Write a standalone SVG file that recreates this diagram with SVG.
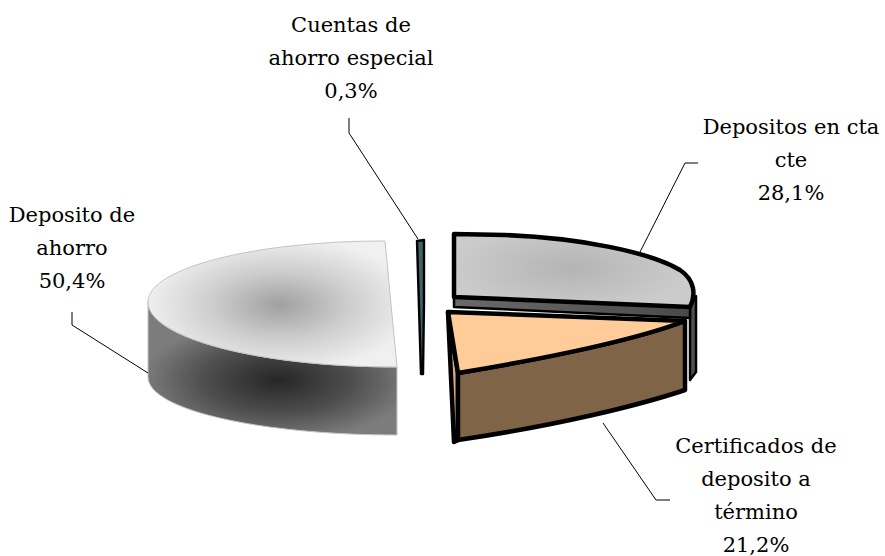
<svg xmlns="http://www.w3.org/2000/svg" width="885" height="556" viewBox="0 0 885 556">
<defs>
<radialGradient id="gTopL" gradientUnits="userSpaceOnUse" cx="280" cy="305" r="135" gradientTransform="translate(280 305) scale(1 0.5) translate(-280 -305)">
<stop offset="0" stop-color="#a0a0a0"/><stop offset="0.5" stop-color="#cdcdcd"/><stop offset="1" stop-color="#f0f0f0"/>
</radialGradient>
<radialGradient id="gSideL" gradientUnits="userSpaceOnUse" cx="278" cy="380" r="135" gradientTransform="translate(278 380) scale(1 0.45) translate(-278 -380)">
<stop offset="0" stop-color="#262626"/><stop offset="0.55" stop-color="#4e4e4e"/><stop offset="1" stop-color="#7c7c7c"/>
</radialGradient>
<radialGradient id="gTopR" gradientUnits="userSpaceOnUse" cx="570" cy="268" r="120" gradientTransform="translate(570 268) scale(1 0.35) translate(-570 -268)">
<stop offset="0" stop-color="#b4b4b4"/><stop offset="1" stop-color="#cbcbcb"/>
</radialGradient>
<linearGradient id="gBand" x1="0" y1="0" x2="1" y2="0">
<stop offset="0" stop-color="#6a6a6a"/><stop offset="1" stop-color="#4a4a4a"/>
</linearGradient>
<style>
.lbl{font-family:"DejaVu Serif","Liberation Serif",serif;font-size:21px;fill:#000;text-anchor:middle}
.lead{fill:none;stroke:#000;stroke-width:1}
.thick{stroke:#000;stroke-width:4.5;stroke-linejoin:round}
.thin{stroke:#c4c4c4;stroke-width:1;stroke-linejoin:round}
</style>
</defs>

<g id="deposito-ahorro">
<path class="thin" fill="url(#gSideL)" d="M148,302 C148,338 260,367 397,367 L397,435 C260,435 148,410 148,377 Z"/>
<path class="thin" fill="url(#gTopL)" d="M385,241 C254,241 148,268 148,302 C148,338 260,367 397,367 Z"/>
<text class="lbl" x="72" y="222">Deposito de</text>
<text class="lbl" x="72" y="255">ahorro</text>
<text class="lbl" x="72" y="288">50,4%</text>
</g>

<g id="cuentas-ahorro-especial">
<path d="M417,241 L424,240 L424,302 L423,374 L421,374 Z" fill="#3f6266" stroke="#000" stroke-width="2.4" stroke-linejoin="round"/>
<text class="lbl" x="351" y="32">Cuentas de</text>
<text class="lbl" x="351" y="65">ahorro especial</text>
<text class="lbl" x="351" y="98">0,3%</text>
</g>

<g id="depositos-cta-cte">
<path d="M690,307 L696,296 L696,372 L690,380 Z" fill="#4f4f4f" stroke="#000" stroke-width="2.5" stroke-linejoin="round"/>
<path d="M454,297 L690,307 L690,318 L454,307 Z" fill="url(#gBand)" stroke="#000" stroke-width="2.5" stroke-linejoin="round"/>
<path class="thick" fill="url(#gTopR)" d="M454,234 L505,235 C580,238 650,252 680,270 C695,280 696,295 690,307 L454,297 Z"/>
<text class="lbl" x="791" y="134">Depositos en cta</text>
<text class="lbl" x="791" y="167">cte</text>
<text class="lbl" x="791" y="200">28,1%</text>
</g>

<g id="certificados-deposito">
<path d="M448,312 L458,373 L458,440 L454,442 Z" fill="#d8a878" class="thick"/>
<path class="thick" fill="#7f6448" d="M458,373 C560,356 640,338 685,321 L685,390 C640,405 560,425 458,440 Z"/>
<path class="thick" fill="#ffcc99" d="M448,312 L685,321 C640,338 560,356 458,373 Z"/>
<text class="lbl" x="756" y="453">Certificados de</text>
<text class="lbl" x="756" y="486">deposito a</text>
<text class="lbl" x="756" y="519">término</text>
<text class="lbl" x="756" y="552">21,2%</text>
</g>

<g id="connectors">
<path class="lead" d="M349,118 L349,133 L418,239"/>
<path class="lead" d="M698,163 L685,163 L640,252"/>
<path class="lead" d="M72,312 L72,325 L148,373"/>
<path class="lead" d="M603,423 L656,500 L670,500"/>
</g>
</svg>
